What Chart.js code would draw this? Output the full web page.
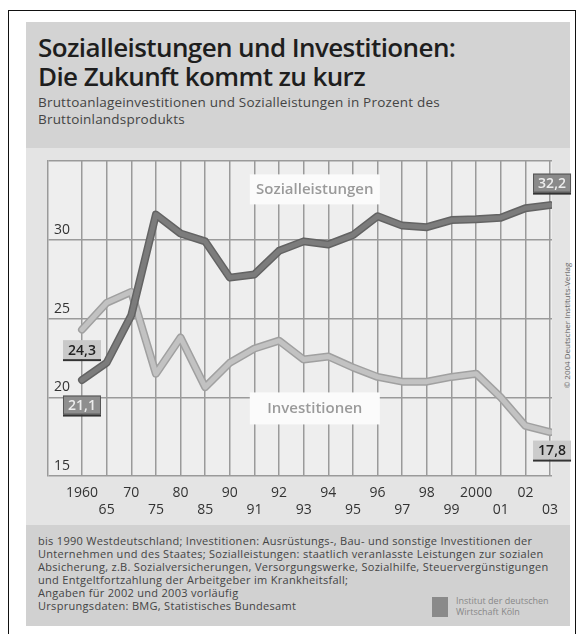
<!DOCTYPE html>
<html>
<head>
<meta charset="utf-8">
<script src="https://cdn.jsdelivr.net/npm/chart.js@4.4.1/dist/chart.umd.min.js"></script>
<style>
  body { margin: 0; width: 583px; height: 634px; overflow: hidden; background: #fff; position: relative; font-family: "Open Sans", sans-serif; }
  #frame { position: absolute; left: 8px; top: 10px; width: 566px; height: 660px; border: 1.5px solid #111; }
  #head { position: absolute; left: 26px; top: 22px; width: 544px; height: 126px; background: #d3d3d3; }
  #band { position: absolute; left: 26px; top: 148px; width: 544px; height: 377px; background: #e4e4e4; }
  #foot { position: absolute; left: 26px; top: 525px; width: 544px; height: 101px; background: #d1d1d1; }
  .title { position: absolute; left: 38px; font-weight: 600; font-size: 26px; color: #1e1e1e; letter-spacing: -0.6px; white-space: nowrap; line-height: 30px; }
  .sub { position: absolute; left: 38px; font-size: 13.5px; color: #444; letter-spacing: 0.2px; line-height: 17px; white-space: nowrap; }
  .note { position: absolute; left: 38px; top: 534px; font-size: 11px; color: #444; line-height: 13px; letter-spacing: 0.3px; white-space: nowrap; }
  #copy { position: absolute; left: 491px; top: 320px; width: 150px; transform: rotate(-90deg); font-size: 8px; color: #666; text-align: center; white-space: nowrap; }
  #logo { position: absolute; left: 432px; top: 597px; width: 16px; height: 20px; background: #8a8a8a; }
  #logotxt { position: absolute; left: 456px; top: 595px; font-size: 9px; line-height: 11px; color: #888; white-space: nowrap; }
  #chart { position: absolute; left: 0; top: 0; }
</style>
</head>
<body>
<div id="frame"></div>
<div id="head"></div>
<div id="band"></div>
<div id="foot"></div>
<div class="title" style="top:32px">Sozialleistungen und Investitionen:</div>
<div class="title" style="top:61px">Die Zukunft kommt zu kurz</div>
<div class="sub" style="top:94px">Bruttoanlageinvestitionen und Sozialleistungen in Prozent des<br>Bruttoinlandsprodukts</div>
<div class="note">bis 1990 Westdeutschland; Investitionen: Ausrüstungs-, Bau- und sonstige Investitionen der<br>Unternehmen und des Staates; Sozialleistungen: staatlich veranlasste Leistungen zur sozialen<br>Absicherung, z.B. Sozialversicherungen, Versorgungswerke, Sozialhilfe, Steuervergünstigungen<br>und Entgeltfortzahlung der Arbeitgeber im Krankheitsfall;<br>Angaben für 2002 und 2003 vorläufig<br>Ursprungsdaten: BMG, Statistisches Bundesamt</div>
<div id="logo"></div>
<div id="logotxt">Institut der deutschen<br>Wirtschaft Köln</div>
<div id="copy">© 2004 Deutscher Instituts-Verlag</div>
<canvas id="chart" width="583" height="634"></canvas>

<script>
// years on the x axis (tick labels as printed)
const yearLabels = ['1960', '65', '70', '75', '80', '85', '90', '91', '92', '93',
                    '94', '95', '96', '97', '98', '99', '2000', '01', '02', '03'];

// Sozialleistungen in % des BIP
const sozialleistungen = [21.1, 22.2, 25.2, 31.6, 30.4, 29.9, 27.6, 27.8, 29.3, 29.9,
                          29.7, 30.3, 31.5, 30.9, 30.8, 31.25, 31.3, 31.4, 32.0, 32.2];

// Bruttoanlageinvestitionen in % des BIP
const investitionen = [24.3, 26.0, 26.7, 21.5, 23.8, 20.65, 22.2, 23.1, 23.6, 22.4,
                       22.6, 21.9, 21.3, 21.0, 21.0, 21.3, 21.5, 20.0, 18.2, 17.8];

const yTicks = [15, 20, 25, 30];

function toPoints(values) {
  return values.map((v, i) => ({ x: i, y: v }));
}

function fmt(v) {
  return v.toFixed(1).replace('.', ',');
}

// plot background + series name boxes
const backdrop = {
  id: 'backdrop',
  beforeDraw(chart) {
    const { ctx, chartArea: a } = chart;
    ctx.save();
    ctx.fillStyle = '#eeeeee';
    ctx.fillRect(a.left, a.top, a.right - a.left, a.bottom - a.top);
    ctx.restore();
  },
  beforeDatasetsDraw(chart) {
    const { ctx, scales } = chart;
    const names = [
      { text: 'Sozialleistungen', x: 9.45, y: 33.2, w: 130, h: 30 },
      { text: 'Investitionen', x: 9.45, y: 19.3, w: 130, h: 32 }
    ];
    ctx.save();
    names.forEach(n => {
      const px = scales.x.getPixelForValue(n.x);
      const py = scales.y.getPixelForValue(n.y);
      ctx.fillStyle = '#fbfbfb';
      ctx.fillRect(px - n.w / 2, py - n.h / 2, n.w, n.h);
      ctx.fillStyle = '#9a9a9a';
      ctx.font = '600 15px "Open Sans"';
      ctx.textAlign = 'center';
      ctx.textBaseline = 'middle';
      ctx.fillText(n.text, px, py);
    });
    ctx.restore();
  }
};

// boxed start / end values
const valueBoxes = {
  id: 'valueBoxes',
  afterDatasetsDraw(chart) {
    const { ctx } = chart;
    const boxes = [
      { ds: 2, idx: 0, dx: 0, dy: 20, fill: '#c9c9c9', text: '#222', frame: false },
      { ds: 0, idx: 0, dx: 0, dy: 25, fill: '#8e8e8e', text: '#ececec', frame: true },
      { ds: 0, idx: 19, dx: 2, dy: -22, fill: '#8a8a8a', text: '#ececec', frame: true },
      { ds: 2, idx: 19, dx: 2, dy: 18, fill: '#cbcbcb', text: '#222', frame: false }
    ];
    ctx.save();
    boxes.forEach(b => {
      const pt = chart.getDatasetMeta(b.ds).data[b.idx];
      const val = chart.data.datasets[b.ds].data[b.idx].y;
      const cx = pt.x + b.dx, cy = pt.y + b.dy;
      const w = 38, h = 19;
      ctx.fillStyle = b.fill;
      ctx.fillRect(cx - w / 2, cy - h / 2, w, h);
      if (b.frame) {
        ctx.strokeStyle = '#555';
        ctx.lineWidth = 1;
        ctx.strokeRect(cx - w / 2 + 0.5, cy - h / 2 + 0.5, w - 1, h - 1);
      }
      ctx.fillStyle = '#333';
      ctx.fillRect(cx - w / 2, cy + h / 2, w, 2);
      ctx.fillStyle = b.text;
      ctx.font = '600 14px "Open Sans"';
      ctx.textAlign = 'center';
      ctx.textBaseline = 'middle';
      ctx.fillText(fmt(val), cx, cy + 1);
    });
    ctx.restore();
  }
};

const gridColor = '#9a9a9a';

new Chart(document.getElementById('chart'), {
  type: 'line',
  data: {
    datasets: [
      { data: toPoints(sozialleistungen), borderColor: '#7c7c7c', borderWidth: 5, order: 0 },
      { data: toPoints(sozialleistungen), borderColor: '#636363', borderWidth: 8, order: 1 },
      { data: toPoints(investitionen), borderColor: '#c2c2c2', borderWidth: 5, order: 2 },
      { data: toPoints(investitionen), borderColor: '#a0a0a0', borderWidth: 8, order: 3 }
    ]
  },
  options: {
    responsive: false,
    animation: false,
    devicePixelRatio: 1,
    layout: { padding: { left: 36, right: 31, top: 161, bottom: 107 } },
    elements: {
      line: { tension: 0, borderJoinStyle: 'round', borderCapStyle: 'round', fill: false },
      point: { radius: 0 }
    },
    plugins: { legend: { display: false }, tooltip: { enabled: false } },
    scales: {
      x: {
        type: 'linear',
        min: -1.38,
        max: 19.08,
        afterBuildTicks: scale => {
          scale.ticks = yearLabels.map((_, i) => ({ value: i }));
        },
        grid: { color: gridColor, lineWidth: 1.5, drawTicks: false },
        border: { display: false },
        ticks: {
          autoSkip: false,
          maxRotation: 0,
          padding: 8.6,
          color: '#333',
          font: { family: 'Open Sans', size: 14, lineHeight: 1.2 },
          callback: (value, i) => i % 2 === 0 ? [yearLabels[i], ''] : ['', yearLabels[i]]
        }
      },
      y: {
        min: 15,
        max: 35,
        afterBuildTicks: scale => {
          scale.ticks = yTicks.concat([35]).map(v => ({ value: v }));
        },
        grid: { color: gridColor, lineWidth: 1.5, drawTicks: false },
        border: { display: true, color: gridColor, width: 1.5 },
        ticks: {
          mirror: true,
          padding: 6,
          labelOffset: -10,
          color: '#333',
          font: { family: 'Open Sans', size: 14 },
          callback: v => yTicks.includes(v) ? String(v) : ''
        }
      }
    }
  },
  plugins: [backdrop, valueBoxes]
});
</script>
</body>
</html>
